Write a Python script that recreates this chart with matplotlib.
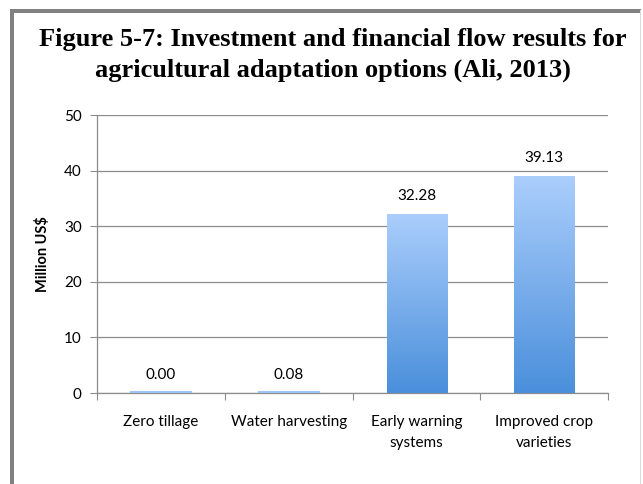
import numpy as np
import matplotlib
matplotlib.use('Agg')
import matplotlib.pyplot as plt
from matplotlib.colors import LinearSegmentedColormap
from matplotlib.patches import Rectangle

title = 'Figure 5-7: Investment and financial flow results for\nagricultural adaptation options (Ali, 2013)'
categories = ['Zero tillage', 'Water harvesting', 'Early warning\nsystems', 'Improved crop\nvarieties']
values = [0.00, 0.08, 32.28, 39.13]
labels = ['0.00', '0.08', '32.28', '39.13']
y_ticks = [0, 10, 20, 30, 40, 50]

plt.rcParams['font.family'] = ['Lato', 'DejaVu Sans']

fig = plt.figure(figsize=(6.43, 4.84), dpi=100)

# outer frame like the report layout
fig.patches.append(Rectangle((10 / 643, 0), 4 / 643, 1 - 10 / 484, transform=fig.transFigure,
                             facecolor='#808080', edgecolor='none'))
fig.patches.append(Rectangle((10 / 643, 1 - 13 / 484), 631 / 643, 4 / 484, transform=fig.transFigure,
                             facecolor='#808080', edgecolor='none'))
fig.patches.append(Rectangle((640 / 643, 0), 1 / 643, 1 - 10 / 484, transform=fig.transFigure,
                             facecolor='#d9d9d9', edgecolor='none'))

fig.text(0.518, 0.943, title, ha='center', va='top', fontsize=19, fontweight='bold',
         family='Liberation Serif', linespacing=1.45)

ax = fig.add_axes([0.151, 0.188, 0.795, 0.574])
x = np.arange(len(categories))
width = 0.47
bars = ax.bar(x, values, width, color='#9cc4f4', edgecolor='none', zorder=2)

cmap = LinearSegmentedColormap.from_list('grad', ['#4a8fdb', '#abcefc'])
grad = np.linspace(0, 1, 256).reshape(-1, 1)
for b, v in zip(bars, values):
    if v <= 0.5:
        # tiny values: Excel still shows a hairline
        ax.plot([b.get_x(), b.get_x() + width], [0.15, 0.15], color='#9cc4f4', lw=1.5, zorder=3)
        continue
    im = ax.imshow(grad, cmap=cmap, origin='lower', aspect='auto',
                   extent=[b.get_x(), b.get_x() + width, 0, v], zorder=3)
    im.set_clip_path(b)

for xi, v, lab in zip(x, values, labels):
    ax.text(xi, v + 1.9, lab, ha='center', va='bottom', fontsize=11, color='#000000')

ax.set_xlim(-0.5, len(categories) - 0.5)
ax.set_ylim(0, 50)
ax.set_yticks(y_ticks)
ax.yaxis.grid(True, color='#8c8c8c', lw=0.9, zorder=0)
ax.set_axisbelow(True)
ax.set_xticks(np.arange(len(categories) + 1) - 0.5)
ax.set_xticklabels([])
ax.set_xticks(x, minor=True)
ax.set_xticklabels(categories, minor=True, fontsize=11, linespacing=1.6)
ax.tick_params(axis='x', which='minor', length=0, pad=16)
ax.tick_params(axis='x', which='major', length=5, color='#8c8c8c', direction='out')
ax.tick_params(axis='y', length=5, color='#8c8c8c', labelsize=11, pad=6)
for s in ['top', 'right']:
    ax.spines[s].set_visible(False)
for s in ['left', 'bottom']:
    ax.spines[s].set_color('#8c8c8c')
    ax.spines[s].set_linewidth(0.9)
ax.set_ylabel('Million US$', fontsize=10.5, fontweight='bold', labelpad=10)

fig.savefig('out.png', dpi=100)
